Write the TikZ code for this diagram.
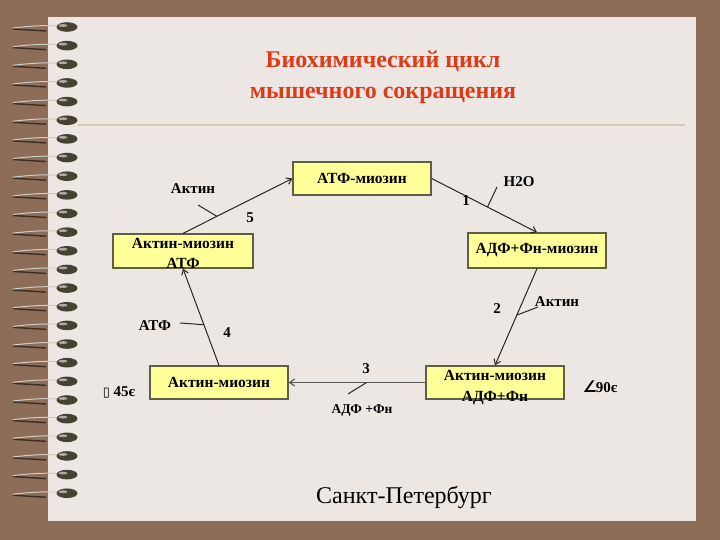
\documentclass[tikz,border=0pt]{standalone}
\usepackage{fontspec}
\setmainfont{Liberation Serif}
\newfontfamily\symfont{DejaVu Sans}
\definecolor{deskbrown}{RGB}{141,108,88}
\definecolor{paper}{RGB}{236,231,227}
\definecolor{boxfill}{RGB}{255,255,153}
\definecolor{boxline}{RGB}{95,95,70}
\definecolor{titlered}{RGB}{222,58,24}
\definecolor{ruleline}{RGB}{214,200,180}
\definecolor{bead}{RGB}{70,66,50}
\definecolor{wirelight}{RGB}{205,205,200}
\definecolor{wiredark}{RGB}{60,45,35}
\usetikzlibrary{arrows.meta}

\begin{document}
\begin{tikzpicture}[
        x=1pt, y=-1pt,
        stage/.style={rectangle, draw=boxline, line width=1.3pt, fill=boxfill, minimum width=138pt, minimum height=33pt, align=center, inner sep=1pt, font=\bfseries\fontsize{15.5}{20.5}\selectfont},
        react/.style={-{Straight Barb[length=5pt,width=7pt]}, line width=1pt, draw=black!85},
        tick/.style={line width=1pt, draw=black!85},
        lbl/.style={inner sep=0pt, font=\bfseries\fontsize{15}{18}\selectfont}
    ]
        % Desk and paper sheet
        \fill[deskbrown] (0,0) rectangle (720,540);
        \useasboundingbox (0,0) rectangle (720,540);
        \fill[paper] (48,17) rectangle (696,521);
        \draw[ruleline, line width=2pt] (78,125) -- (685,125);

        % Spiral binding
        \foreach \k in {0,...,25} {
            \pgfmathsetmacro{\yy}{27+18.65*\k}
            \draw[wiredark, line width=1.4pt] (13,\yy+2) -- (46,\yy+4);
            \draw[wirelight, line width=1pt] (13,\yy+1) .. controls (30,\yy-1) and (45,\yy-2) .. (58,\yy-1);
            \fill[bead] (67,\yy) ellipse (10.5 and 4.8);
            \fill[white!55!bead] (63,\yy-1.5) ellipse (4.5 and 1.4);
        }

        % Title
        \node[align=center, text=titlered, font=\bfseries\fontsize{24}{31}\selectfont] (title) at (383,77) {Биохимический цикл\\ мышечного сокращения};

        % Stages of the cycle
        \node[stage] (atfm) at (362,178.5) {АТФ-миозин};
        \node[stage, minimum width=140pt, minimum height=34pt, inner ysep=-3pt] (amatf) at (183,251) {\rule{0pt}{15pt}Актин-миозин\\[-1pt]АТФ};
        \node[stage, minimum height=35pt] (adfm) at (537,250.5) {АДФ+Фн-миозин};
        \node[stage] (am) at (219,382.5) {Актин-миозин};
        \node[stage, inner ysep=-6pt] (amadf) at (495,382.5) {\rule{0pt}{20pt}Актин-миозин\\АДФ+Фн};

        % Reactions
        \draw[react] (atfm.east) -- coordinate[pos=0.53] (p1) (adfm.north);
        \draw[react] (adfm.south) -- coordinate[pos=0.48] (p2) (amadf.north);
        \draw[react, draw=black!65, line width=1.2pt] (amadf.west) -- coordinate[pos=0.43] (p3) (am.east);
        \draw[react] (am.north) -- coordinate[pos=0.42] (p4) (amatf.south);
        \draw[react] (amatf.north) -- coordinate[pos=0.31] (p5) (atfm.west);

        % Side ticks
        \coordinate (t1) at (497,187);
        \coordinate (t2) at (538,307);
        \coordinate (t3) at (348,394);
        \coordinate (t4) at (180,323);
        \coordinate (t5) at (198,205);
        \foreach \i in {1,...,5}
            \draw[tick] (p\i) -- (t\i);

        % Step numbers
        \node[lbl] (n1) at (466,201) {1};
        \node[lbl] (n2) at (497,309) {2};
        \node[lbl] (n3) at (366,369) {3};
        \node[lbl] (n4) at (227,333) {4};
        \node[lbl] (n5) at (250,218) {5};

        % Substances
        \node[lbl] (h2o) at (519,182) {H2O};
        \node[lbl] (aktin2) at (557,302) {Актин};
        \node[lbl, font=\bfseries\fontsize{13.5}{16}\selectfont] (adfout) at (362,410) {АДФ +Фн};
        \node[lbl] (atfin) at (155,326) {АТФ};
        \node[lbl] (aktin5) at (193,189) {Актин};

        % Angles
        \node[lbl] (ang45) at (119,392) {{\symfont\mdseries\fontsize{13}{16}\selectfont ▯} 45є};
        \node[lbl] (ang90) at (600,387) {{\symfont\fontsize{16}{18}\selectfont ∠}\kern-1pt90є};

        % City
        \node[font=\fontsize{24}{28}\selectfont] (city) at (404,497) {Санкт-Петербург};
    \end{tikzpicture}
\end{document}
